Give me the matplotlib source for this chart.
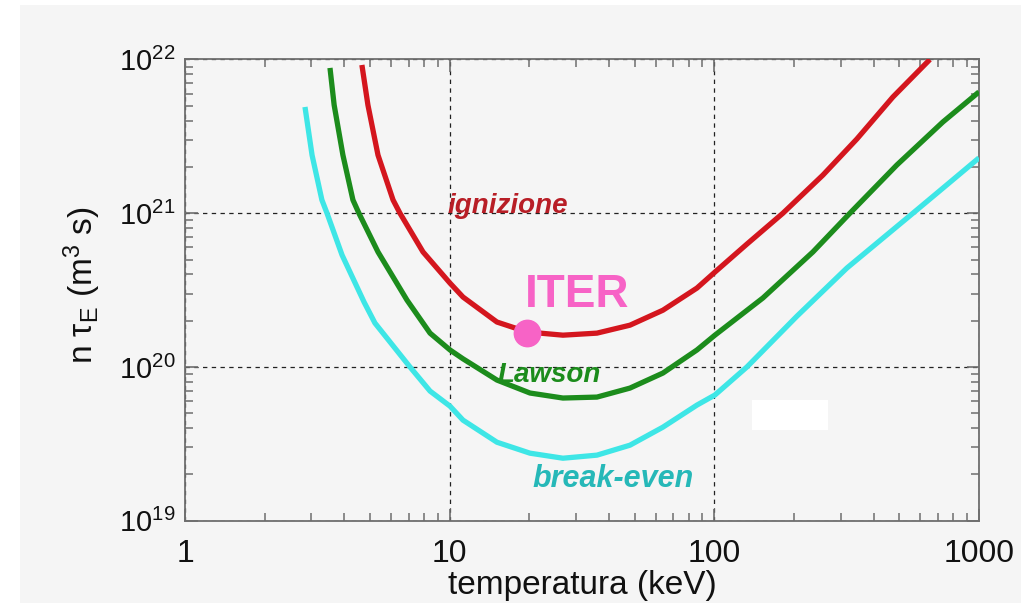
import numpy as np
import matplotlib
matplotlib.use('Agg')
import matplotlib.pyplot as plt
from matplotlib.patches import Rectangle

plt.rcParams['font.family'] = ['Liberation Sans', 'DejaVu Sans']
plt.rcParams['mathtext.fontset'] = 'custom'
plt.rcParams['mathtext.rm'] = 'Liberation Sans'
plt.rcParams['mathtext.it'] = 'Liberation Sans:italic'
plt.rcParams['mathtext.default'] = 'regular'

# temperature (keV) and n*tau_E (m^-3 s)
t_ign = [4.66, 4.91, 5.36, 6.11, 6.49, 7.93, 10.03, 11.23, 15.09, 19.59, 26.79,
         36.02, 48.01, 63.94, 85.97, 100.5, 132.8, 181.6, 257.2, 345.7, 472.9, 652.4]
n_ign = [9.21e21, 5.06e21, 2.39e21, 1.22e21, 1.0e21, 5.60e20, 3.51e20, 2.85e20,
         1.96e20, 1.69e20, 1.61e20, 1.66e20, 1.87e20, 2.34e20, 3.26e20, 4.14e20,
         6.30e20, 1.0e21, 1.77e21, 3.04e21, 5.70e21, 1.0e22]

t_law = [3.53, 3.66, 3.95, 4.31, 4.54, 5.36, 6.90, 8.43, 10.03, 11.23, 15.09,
         20.11, 26.79, 36.02, 48.01, 63.94, 85.97, 100.5, 152.6, 235.8, 325.3,
         489.6, 730.3, 1000]
n_law = [8.81e21, 5.06e21, 2.39e21, 1.22e21, 1.0e21, 5.60e20, 2.72e20, 1.66e20,
         1.29e20, 1.13e20, 8.22e19, 6.77e19, 6.28e19, 6.37e19, 7.29e19, 9.13e19,
         1.29e20, 1.61e20, 2.81e20, 5.60e20, 1.0e21, 2.06e21, 3.92e21, 6.15e21]

t_be = [2.84, 3.02, 3.29, 3.44, 3.92, 4.75, 5.22, 7.08, 8.43, 10.03, 11.23,
        15.09, 20.11, 26.79, 36.02, 48.01, 63.94, 85.97, 100.5, 132.8, 205.2,
        316.9, 562.8, 756.3, 1000]
n_be = [4.91e21, 2.39e21, 1.22e21, 1.0e21, 5.35e20, 2.64e20, 1.93e20, 1.0e20,
        6.97e19, 5.56e19, 4.51e19, 3.24e19, 2.75e19, 2.55e19, 2.67e19, 3.10e19,
        4.06e19, 5.65e19, 6.57e19, 1.0e20, 2.14e20, 4.40e20, 1.0e21, 1.53e21,
        2.29e21]

iter_t, iter_n = 19.6, 1.66e20

xticks = [1, 10, 100, 1000]
xlabels = ['1', '10', '100', '1000']
yticks = [1e19, 1e20, 1e21, 1e22]
ylabels = ['$10^{19}$', '$10^{20}$', '$10^{21}$', '$10^{22}$']

bg = '#f5f5f5'
axis_col = '#6e6e6e'

fig = plt.figure(figsize=(10.25, 6.05), dpi=100, facecolor='white')
fig.patches.append(Rectangle((0.0195, 0.0033), 0.9766, 0.9884, transform=fig.transFigure,
                             facecolor=bg, edgecolor='none', zorder=-5))
ax = fig.add_axes([0.1805, 0.1393, 0.7746, 0.7624])
ax.set_facecolor(bg)

ax.plot(t_be, n_be, color='#3ee6e6', lw=3.8, solid_capstyle='butt',
        solid_joinstyle='round', zorder=3)
ax.plot(t_law, n_law, color='#1c8c1c', lw=3.8, solid_capstyle='butt',
        solid_joinstyle='round', zorder=3)
ax.plot(t_ign, n_ign, color='#d4161e', lw=3.8, solid_capstyle='butt',
        solid_joinstyle='round', zorder=3)
ax.plot([iter_t], [iter_n], 'o', color='#f763c6', ms=19, zorder=4)

ax.set_xscale('log')
ax.set_yscale('log')
ax.set_xlim(1, 1000)
ax.set_ylim(1e19, 1e22)
ax.set_xticks(xticks, xlabels)
ax.set_yticks(yticks, ylabels)

ax.grid(True, which='major', color='#222222', lw=0.9, ls=(0, (3.5, 3.5)))
ax.set_axisbelow(True)
for s in ax.spines.values():
    s.set_color(axis_col)
    s.set_linewidth(1.3)
ax.tick_params(which='both', direction='in', top=True, right=True, colors=axis_col,
               labelcolor='#111111', labelsize=21)
ax.tick_params(which='major', length=9, width=1.2)
ax.tick_params(which='minor', length=6, width=1.1)
ax.tick_params(axis='x', which='major', pad=13, labelsize=23)
ax.tick_params(axis='y', which='major', pad=7)

ax.text(9.85, 1.0e21, 'ignizione', color='#b81e26', fontsize=20, fontweight='bold',
        style='italic', va='baseline', ha='left', zorder=5)
ax.text(15.2, 7.96e19, 'Lawson', color='#1c8c1c', fontsize=20, fontweight='bold',
        style='italic', va='baseline', ha='left', zorder=5)
ax.text(20.5, 1.66e19, 'break-even', color='#26b8b8', fontsize=22, fontweight='bold',
        style='italic', va='baseline', ha='left', zorder=5)
ax.text(19.2, 2.45e20, 'ITER', color='#f763c6', fontsize=33, fontweight='bold',
        va='baseline', ha='left', zorder=5)

ax.set_xlabel('temperatura (keV)', fontsize=24, color='#111111')
ax.xaxis.set_label_coords(0.5, -0.106)
ax.xaxis.label.set_va('top')
fig.text(0.08, 1 - 285 / 605, r'n $\tau_E$ (m$^{3}$ s)', rotation=90, fontsize=24,
         color='#111111', ha='center', va='center')

# white patch sitting over the plot in the original
fig.patches.append(Rectangle((0.7337, 0.2893), 0.0741, 0.0496, transform=fig.transFigure,
                             facecolor='white', edgecolor='none', zorder=5))

fig.savefig('out.png', dpi=100, facecolor='white')
